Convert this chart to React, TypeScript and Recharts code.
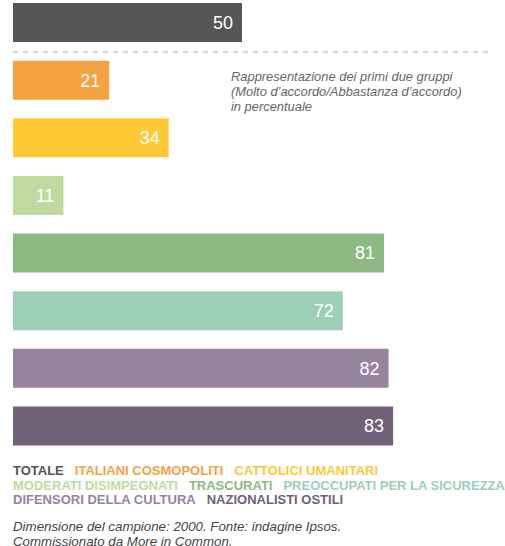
import { Bar, BarChart, Cell, LabelList, XAxis, YAxis } from 'recharts';

const GROUPS = [
    'TOTALE',
    'ITALIANI COSMOPOLITI',
    'CATTOLICI UMANITARI',
    'MODERATI DISIMPEGNATI',
    'TRASCURATI',
    'PREOCCUPATI PER LA SICUREZZA',
    'DIFENSORI DELLA CULTURA',
    'NAZIONALISTI OSTILI',
];

const VALUES = [50, 21, 34, 11, 81, 72, 82, 83];

const COLORS = ['#555555', '#f5a243', '#ffc935', '#bfda9f', '#8db983', '#9ccfb5', '#96839d', '#716176'];

// legend rows as laid out under the chart
const LEGEND_ROWS = [[0, 1, 2], [3, 4, 5], [6, 7]];

const NOTE = [
    'Rappresentazione dei primi due gruppi',
    '(Molto d’accordo/Abbastanza d’accordo)',
    'in percentuale',
];

const SOURCE = [
    'Dimensione del campione: 2000. Fonte: indagine Ipsos.',
    'Commissionato da More in Common.',
];

const FONT = '"Liberation Sans", Arial, Helvetica, sans-serif';

export default function App() {
    const rows = GROUPS.map((name, i) => ({ name, value: VALUES[i], color: COLORS[i] }));

    return (
        <div style={{ position: 'absolute', top: 0, left: 0, width: 505, height: 546, overflow: 'hidden', fontFamily: FONT, background: '#fff' }}>
            <div style={{ position: 'absolute', top: -6, left: 0 }}>
                <BarChart
                    width={505}
                    height={461}
                    data={rows}
                    layout="vertical"
                    margin={{ top: 0, right: 34, bottom: 0, left: 13 }}
                    barSize={39}
                >
                    <XAxis type="number" domain={[0, 100]} hide />
                    <YAxis type="category" dataKey="name" hide />
                    <Bar dataKey="value" isAnimationActive={false}>
                        {rows.map(r => (
                            <Cell key={r.name} fill={r.color} />
                        ))}
                        <LabelList
                            dataKey="value"
                            position="insideRight"
                            offset={9}
                            fill="#ffffff"
                            style={{ fontSize: 18, fontFamily: FONT }}
                        />
                    </Bar>
                </BarChart>
            </div>

            {/* dashed separator under the total */}
            <svg style={{ position: 'absolute', top: 51, left: 13 }} width={476} height={2}>
                <line x1={0} y1={1} x2={476} y2={1} stroke="#a8a8a8" strokeWidth={1} strokeDasharray="5 5" />
            </svg>

            <div style={{ position: 'absolute', top: 69.3, left: 231, fontSize: 12.9, lineHeight: '15px', fontStyle: 'italic', color: '#666', whiteSpace: 'nowrap' }}>
                {NOTE.map(l => <div key={l}>{l}</div>)}
            </div>

            <div style={{ position: 'absolute', top: 464.2, left: 13, fontSize: 13, lineHeight: '14.5px', fontWeight: 700, whiteSpace: 'nowrap' }}>
                {LEGEND_ROWS.map((row, r) => (
                    <div key={r}>
                        {row.map(i => (
                            <span key={i} style={{ color: COLORS[i], marginRight: 11 }}>{GROUPS[i]}</span>
                        ))}
                    </div>
                ))}
            </div>

            <div style={{ position: 'absolute', top: 518.8, left: 13, fontSize: 13.3, lineHeight: '15px', fontStyle: 'italic', color: '#444', whiteSpace: 'nowrap' }}>
                {SOURCE.map(l => <div key={l}>{l}</div>)}
            </div>
        </div>
    );
}
